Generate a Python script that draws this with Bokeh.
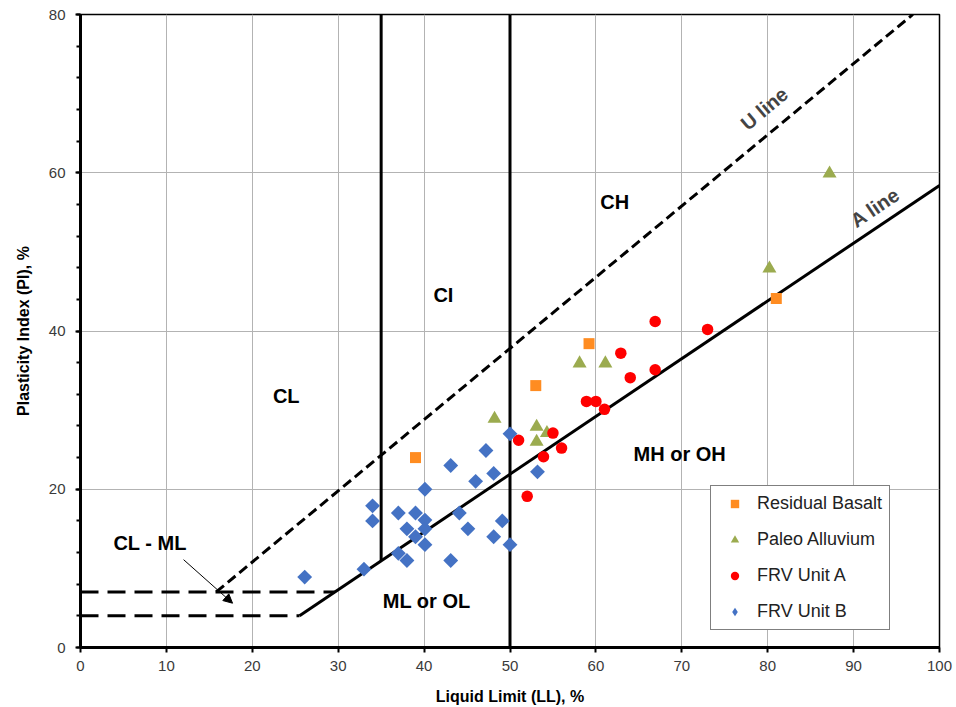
import numpy as np
from bokeh.plotting import figure
from bokeh.models import (Range1d, SingleIntervalTicker, Legend, LegendItem,
                          Arrow, NormalHead, Label)
from bokeh.embed import file_html
from bokeh.resources import INLINE

# ---- data ----
rb_ll = [39, 53, 59.2, 81]
rb_pi = [24, 33.1, 38.4, 44.1]

pa_ll = [48.2, 53.1, 54.3, 53.1, 58.1, 61.1, 80.2, 87.2]
pa_pi = [28.9, 27.9, 27.1, 26.0, 35.9, 35.9, 47.9, 59.9]

fa_ll = [66.9, 73.0, 62.9, 64.0, 66.9, 58.9, 60.0, 61.0, 55.0, 51.0, 56.0, 53.9, 52.0]
fa_pi = [41.2, 40.2, 37.2, 34.1, 35.1, 31.1, 31.1, 30.1, 27.1, 26.2, 25.2, 24.1, 19.1]

fb_ll = [50.0, 47.2, 43.1, 48.1, 46.0, 53.2, 40.1, 34.0, 34.0, 37.0, 39.0, 40.1, 38.0,
         40.1, 39.0, 40.1, 44.1, 45.1, 49.1, 48.1, 50.0, 37.0, 38.0, 43.1, 33.0, 26.1]
fb_pi = [27.0, 24.9, 23.0, 22.0, 21.0, 22.2, 20.0, 17.9, 16.0, 17.0, 17.0, 16.1, 15.0,
         15.0, 14.0, 13.0, 17.0, 15.0, 16.0, 14.0, 13.0, 11.9, 11.0, 11.0, 9.9, 8.9]

series_names = ["Residual Basalt", "Paleo Alluvium", "FRV Unit A", "FRV Unit B"]

# classification chart lines
a_line_ll = [25.5, 100]
u_line_ll = [15.8, 96.9]
hline_pi = [7, 4]
hline_end_ll = [29.6, 25.5]
vline_ll = [35, 50]
vline_bottom = [10.95, 0]

zone_text = ["CL", "CI", "CH", "MH or OH", "ML or OL", "CL - ML"]
zone_x = [23.95, 42.25, 62.2, 69.75, 40.3, 8.1]
zone_y = [31.8, 44.5, 56.3, 24.4, 5.9, 13.2]

FONT = "Liberation Sans"

p = figure(width=956, height=707, output_backend="svg", toolbar_location=None,
           x_range=Range1d(0, 100), y_range=Range1d(0, 80),
           min_border_left=80, min_border_right=17, min_border_top=14,
           min_border_bottom=60)
p.background_fill_color = "white"
p.border_fill_color = "white"
p.outline_line_color = "black"
p.outline_line_width = 1.5

# axes
p.xaxis.ticker = SingleIntervalTicker(interval=10, num_minor_ticks=0)
p.yaxis.ticker = SingleIntervalTicker(interval=20, num_minor_ticks=5)
for ax in (p.xaxis[0], p.yaxis[0]):
    ax.axis_line_width = 3
    ax.axis_line_color = "black"
    ax.major_tick_line_color = "black"
    ax.major_tick_line_width = 2
    ax.major_tick_in = 0
    ax.major_tick_out = 5
    ax.minor_tick_in = 0
    ax.minor_tick_out = 4
    ax.minor_tick_line_width = 2
    ax.minor_tick_line_color = "black"
    ax.major_label_text_font = FONT
    ax.major_label_text_font_size = "15px"
    ax.major_label_text_color = "#3a3a3a"
    ax.axis_label_text_font = FONT
    ax.axis_label_text_font_size = "16px"
    ax.axis_label_text_font_style = "bold"
    ax.axis_label_text_color = "black"
p.xaxis.minor_tick_line_color = None
p.xaxis.major_label_standoff = 8
p.xaxis.axis_label_standoff = 14
p.yaxis.major_label_standoff = 10
p.yaxis.axis_label_standoff = 14
p.xaxis.axis_label = "Liquid Limit (LL), %"
p.yaxis.axis_label = "Plasticity Index (PI), %"

p.xgrid.grid_line_color = "#b3b3b3"
p.ygrid.grid_line_color = "#b3b3b3"
p.xgrid.grid_line_width = 1
p.ygrid.grid_line_width = 1

# A line: PI = 0.73 (LL - 20)
a_x = np.array(a_line_ll)
p.line(a_x, 0.73 * (a_x - 20), line_color="black", line_width=3)
# U line: PI = 0.9 (LL - 8)
u_x = np.array(u_line_ll)
p.line(u_x, 0.9 * (u_x - 8), line_color="black", line_width=3, line_dash="10 5")
# horizontal dashed
for yv, xe in zip(hline_pi, hline_end_ll):
    p.line([0, xe], [yv, yv], line_color="black", line_width=3, line_dash="18 9")
# vertical lines
for xv, yb in zip(vline_ll, vline_bottom):
    p.line([xv, xv], [yb, 80], line_color="black", line_width=3)

# data
r_rb = p.scatter(rb_ll, rb_pi, marker="square", size=11, fill_color="#ff8c21",
                 line_color=None)
r_pa = p.scatter(pa_ll, pa_pi, marker="triangle", size=14, fill_color="#9bab4f",
                 line_color=None)
r_fa = p.scatter(fa_ll, fa_pi, marker="circle", size=11.5, fill_color="#ff0000",
                 line_color=None)
r_fb = p.scatter(fb_ll, fb_pi, marker="square", size=10.5, angle=np.pi / 4,
                 fill_color="#4472c4", line_color=None)
# legend-only glyph for the diamond series
r_fb_leg = p.scatter([np.nan], [np.nan], marker="diamond", size=14,
                     fill_color="#4472c4", line_color=None)

# zone labels
for t, x, y in zip(zone_text, zone_x, zone_y):
    p.add_layout(Label(x=x, y=y, text=t, text_align="center", text_baseline="middle",
                       text_font=FONT, text_font_size="20px", text_font_style="bold",
                       text_color="black"))
p.add_layout(Label(x=79.6, y=68.1, text="U line", text_align="center",
                   text_baseline="middle", angle=40, angle_units="deg",
                   text_font=FONT, text_font_size="20px", text_font_style="bold"))
p.add_layout(Label(x=92.5, y=55.6, text="A line", text_align="center",
                   text_baseline="middle", angle=34, angle_units="deg",
                   text_font=FONT, text_font_size="20px", text_font_style="bold"))

# arrow for CL-ML
p.add_layout(Arrow(x_start=12.0, y_start=11.1, x_end=17.7, y_end=5.6,
                   line_color="black", line_width=1,
                   end=NormalHead(size=9, fill_color="black", line_color="black",
                                  line_width=1)))

legend = Legend(items=[LegendItem(label=series_names[0], renderers=[r_rb]),
                       LegendItem(label=series_names[1], renderers=[r_pa]),
                       LegendItem(label=series_names[2], renderers=[r_fa]),
                       LegendItem(label=series_names[3], renderers=[r_fb_leg])],
                location=(630, 17))
legend.border_line_color = "black"
legend.border_line_width = 1.5
legend.background_fill_color = "white"
legend.background_fill_alpha = 1
legend.label_text_font = FONT
legend.label_text_font_size = "18px"
legend.label_text_color = "#222222"
legend.padding = 7
legend.margin = 0
legend.spacing = 15
legend.glyph_height = 21
legend.glyph_width = 33
legend.label_height = 21
legend.label_standoff = 6
p.add_layout(legend, "center")

open("out.html", "w").write(file_html(p, INLINE))
